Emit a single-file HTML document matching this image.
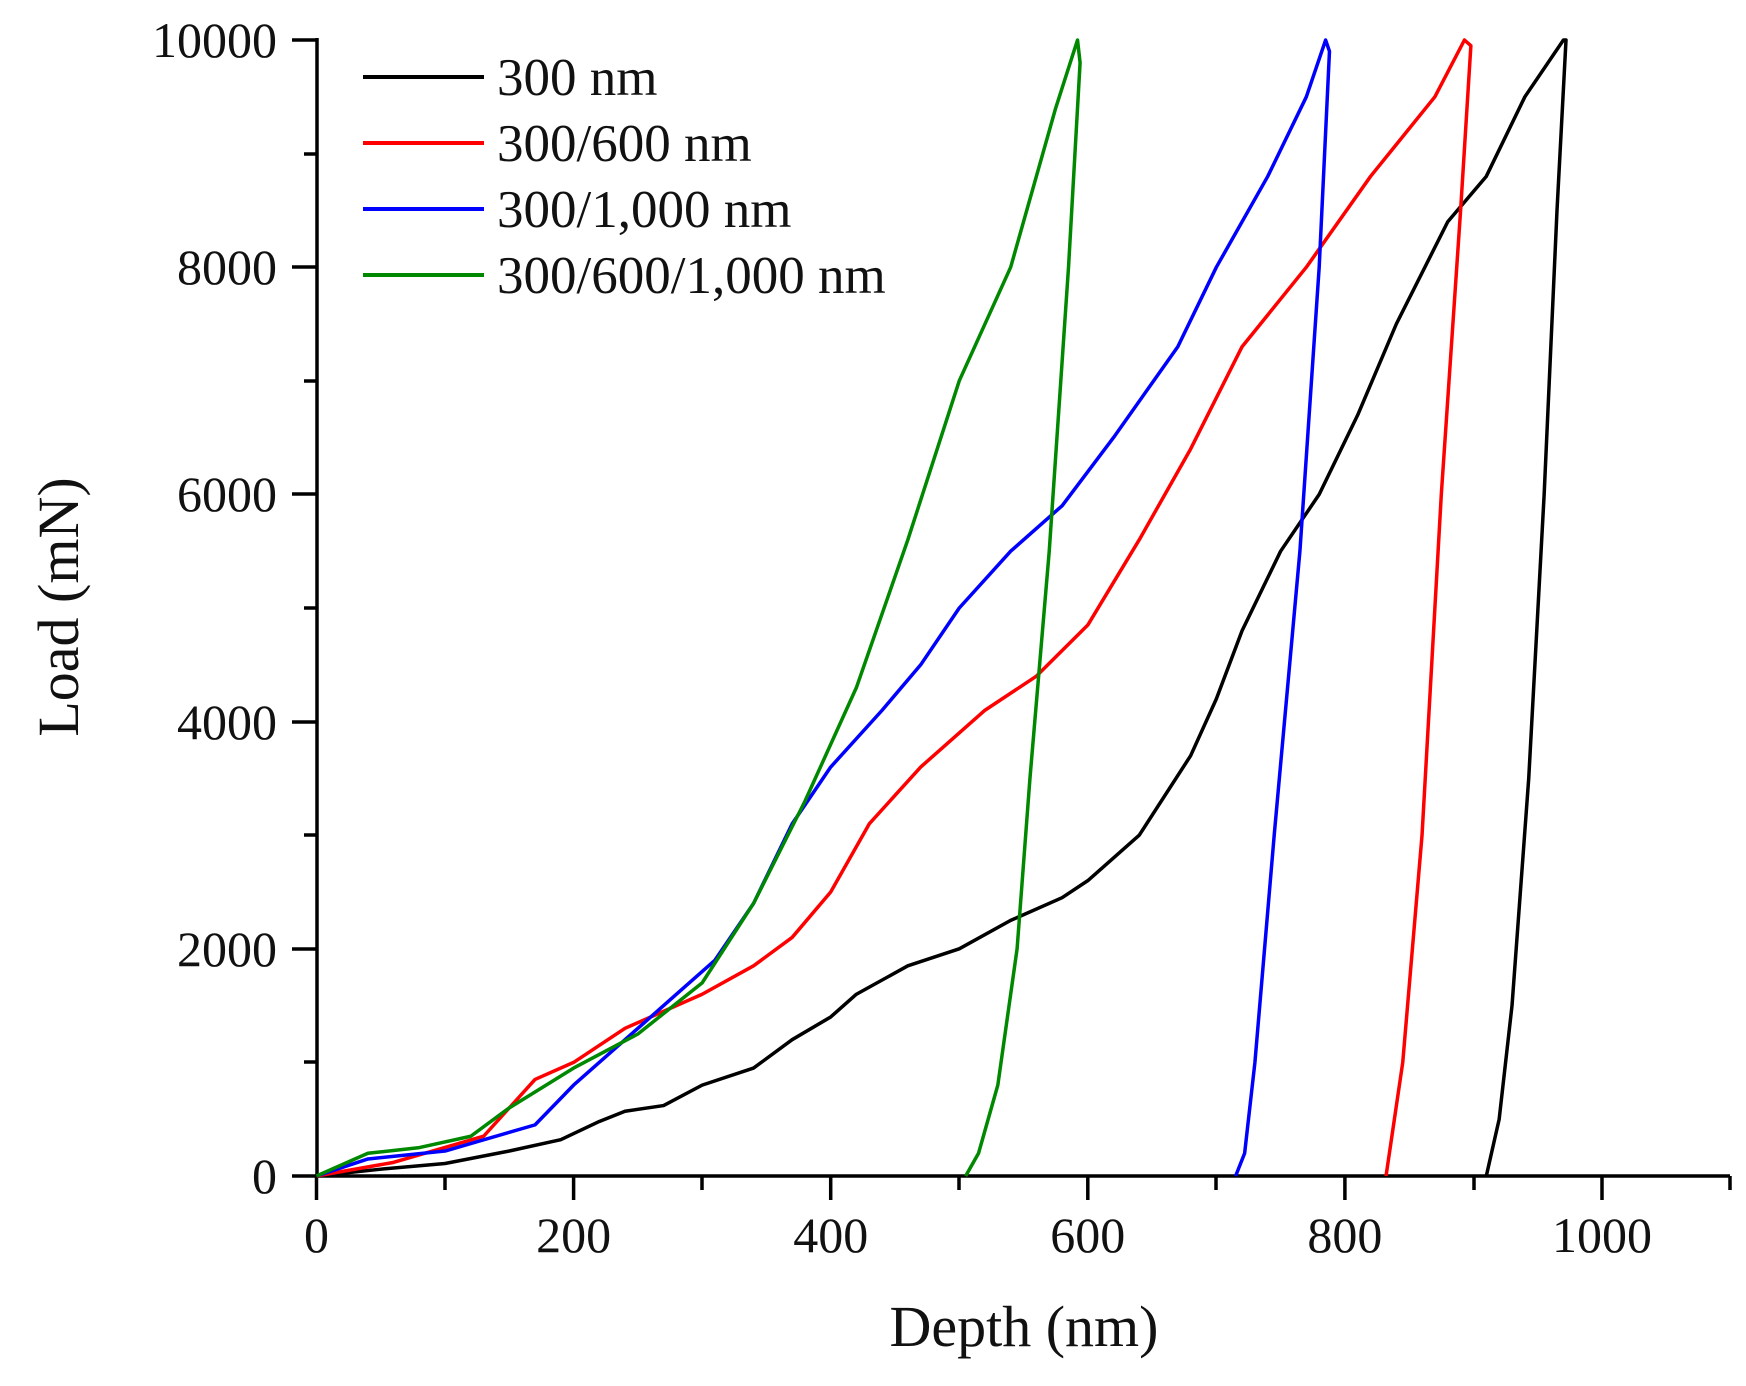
<!DOCTYPE html>
<html><head><meta charset="utf-8"><style>html,body{margin:0;padding:0;background:#fff}svg{display:block}</style></head>
<body>
<svg width="1746" height="1386" viewBox="0 0 1746 1386" xmlns="http://www.w3.org/2000/svg" font-family="Liberation Serif, serif">
<rect width="1746" height="1386" fill="#fff"/>
<g stroke="#000" stroke-width="3.5" fill="none">
<line x1="317" y1="38" x2="317" y2="1178"/>
<line x1="315" y1="1176" x2="1730" y2="1176"/>
<line x1="292" y1="40" x2="317" y2="40"/>
<line x1="292" y1="267" x2="317" y2="267"/>
<line x1="292" y1="494" x2="317" y2="494"/>
<line x1="292" y1="722" x2="317" y2="722"/>
<line x1="292" y1="949" x2="317" y2="949"/>
<line x1="292" y1="1176" x2="317" y2="1176"/>
<line x1="304" y1="154" x2="317" y2="154"/>
<line x1="304" y1="381" x2="317" y2="381"/>
<line x1="304" y1="608" x2="317" y2="608"/>
<line x1="304" y1="835" x2="317" y2="835"/>
<line x1="304" y1="1062" x2="317" y2="1062"/>
<line x1="316.5" y1="1176" x2="316.5" y2="1200"/>
<line x1="573.6" y1="1176" x2="573.6" y2="1200"/>
<line x1="830.7" y1="1176" x2="830.7" y2="1200"/>
<line x1="1087.8" y1="1176" x2="1087.8" y2="1200"/>
<line x1="1344.9" y1="1176" x2="1344.9" y2="1200"/>
<line x1="1602" y1="1176" x2="1602" y2="1200"/>
<line x1="445" y1="1176" x2="445" y2="1190"/>
<line x1="702" y1="1176" x2="702" y2="1190"/>
<line x1="959" y1="1176" x2="959" y2="1190"/>
<line x1="1216" y1="1176" x2="1216" y2="1190"/>
<line x1="1474" y1="1176" x2="1474" y2="1190"/>
<line x1="1730" y1="1176" x2="1730" y2="1190"/>
</g>
<g font-size="50" fill="#111" text-anchor="end">
<text x="277" y="57">10000</text>
<text x="277" y="284">8000</text>
<text x="277" y="511">6000</text>
<text x="277" y="739">4000</text>
<text x="277" y="966">2000</text>
<text x="277" y="1193">0</text>
</g>
<g font-size="50" fill="#111" text-anchor="middle">
<text x="316.5" y="1252">0</text>
<text x="573.6" y="1252">200</text>
<text x="830.7" y="1252">400</text>
<text x="1087.8" y="1252">600</text>
<text x="1344.9" y="1252">800</text>
<text x="1602" y="1252">1000</text>
</g>
<text x="1024" y="1346" font-size="58" text-anchor="middle" fill="#111">Depth (nm)</text>
<text transform="translate(78,607) rotate(-90)" font-size="58" text-anchor="middle" fill="#111">Load (mN)</text>
<g transform="translate(316.5,1176) scale(1.2855,-0.1136)" fill="none" stroke-width="3.5" stroke-linejoin="round">
<polyline vector-effect="non-scaling-stroke" stroke="#000" points="0,0 50,60 100,110 150,220 190,320 220,480 240,570 270,620 300,800 340,950 370,1200 400,1400 420,1600 460,1850 500,2000 540,2250 580,2450 600,2600 640,3000 680,3700 700,4200 720,4800 750,5500 780,6000 810,6700 840,7500 880,8400 910,8800 940,9500 970,10000 972,10000 965,8500 955,6000 943,3500 930,1500 920,500 910,0"/>
<polyline vector-effect="non-scaling-stroke" stroke="#f00" points="0,0 60,120 130,350 170,850 200,1000 240,1300 300,1600 340,1850 370,2100 400,2500 430,3100 470,3600 520,4100 560,4400 600,4850 640,5600 680,6400 720,7300 770,8000 820,8800 870,9500 893,10000 898,9950 890,8500 875,6000 860,3000 845,1000 832,0"/>
<polyline vector-effect="non-scaling-stroke" stroke="#00f" points="0,0 40,150 100,220 170,450 200,800 240,1200 280,1600 310,1900 340,2400 370,3100 400,3600 440,4100 470,4500 500,5000 540,5500 580,5900 620,6500 670,7300 700,8000 740,8800 770,9500 785,10000 788,9900 780,8000 765,5500 745,3000 730,1000 722,200 715,0"/>
<polyline vector-effect="non-scaling-stroke" stroke="#080" points="0,0 40,200 80,250 120,350 150,600 200,950 250,1250 300,1700 340,2400 380,3300 420,4300 460,5600 500,7000 540,8000 575,9400 592,10000 594,9800 585,8000 570,5500 555,3500 545,2000 530,800 515,200 505,0"/>
</g>
<g stroke-width="4">
<line x1="363" y1="77" x2="484" y2="77" stroke="#000"/>
<line x1="363" y1="143" x2="484" y2="143" stroke="#f00"/>
<line x1="363" y1="209" x2="484" y2="209" stroke="#00f"/>
<line x1="363" y1="275" x2="484" y2="275" stroke="#080"/>
</g>
<g font-size="53" fill="#111">
<text x="497" y="95">300 nm</text>
<text x="497" y="161">300/600 nm</text>
<text x="497" y="227">300/1,000 nm</text>
<text x="497" y="293">300/600/1,000 nm</text>
</g>
</svg>
</body></html>
